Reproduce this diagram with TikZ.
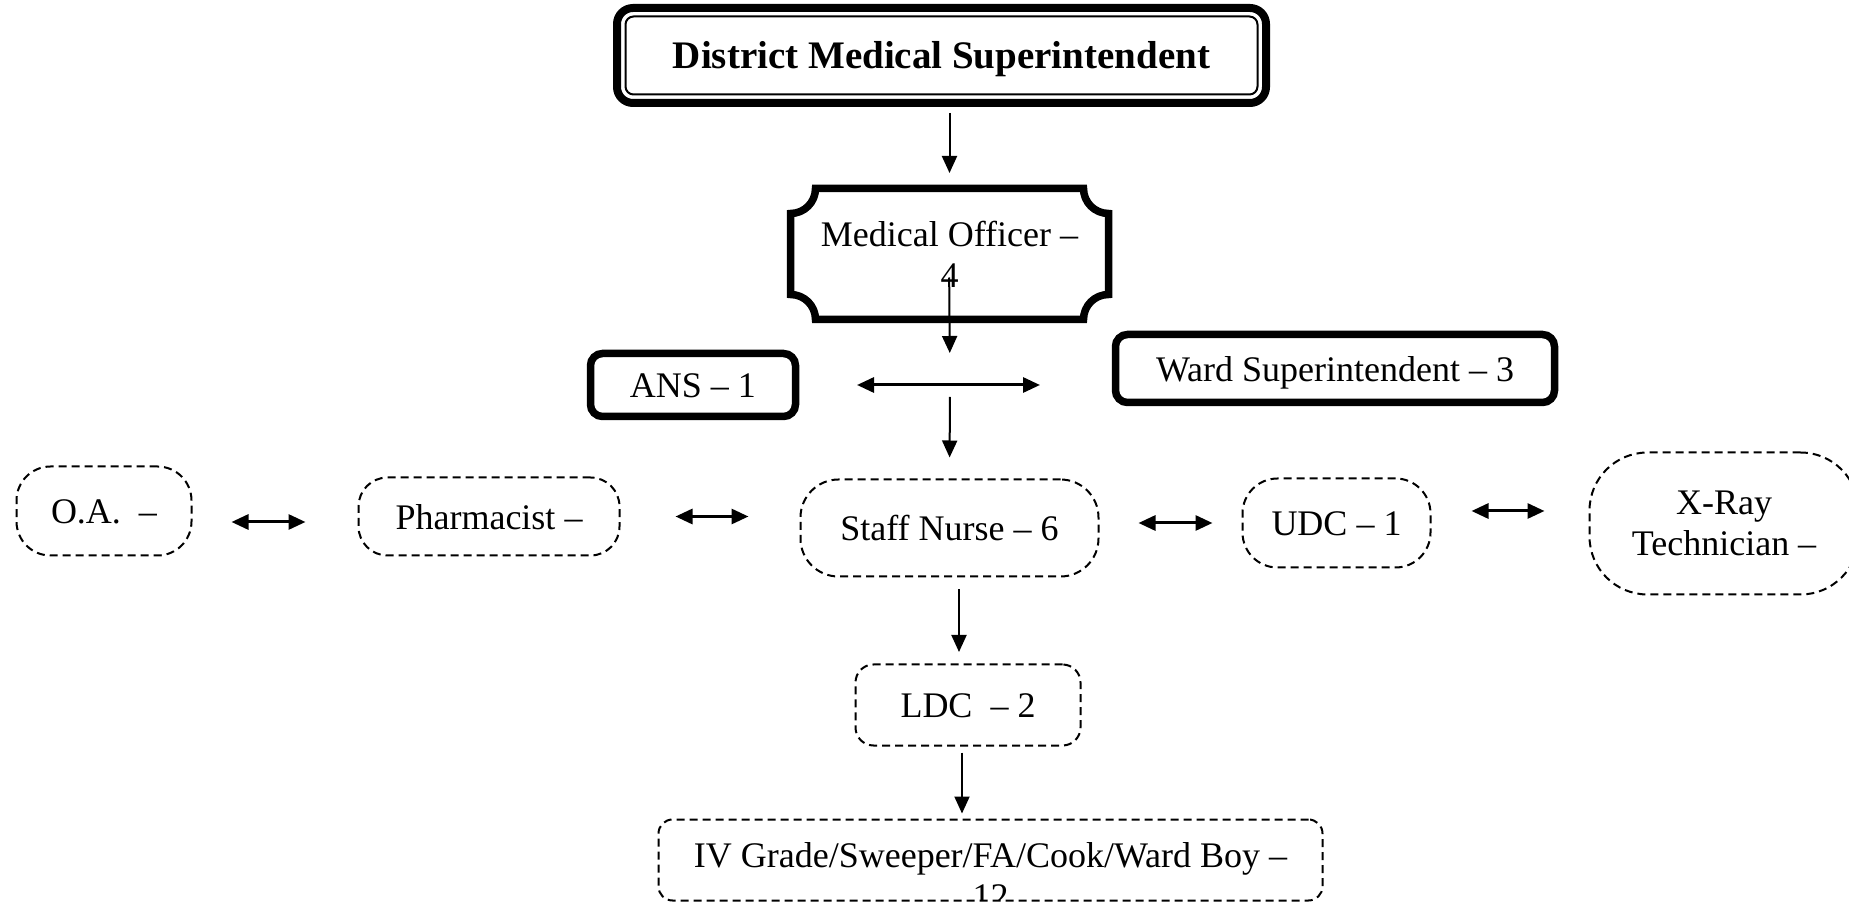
\documentclass[tikz,border=0pt]{standalone}
\usepackage{fontspec}
\setmainfont{Liberation Serif}
\usepackage{tikz}
\usetikzlibrary{arrows.meta,positioning,calc}

\begin{document}
\begin{tikzpicture}[
    x=0.5pt, y=0.5pt,
    >={Triangle[length=8.5pt,width=7.5pt]},
    every node/.style={font=\fontsize{18}{20.5}\selectfont, inner sep=0pt, outer sep=0pt, align=center},
    oneline/.style={text height=15pt, text depth=2pt},
    thickbox/.style={draw, line width=3.75pt, rounded corners=6pt, oneline},
    dashbox/.style={draw, line width=1pt, dash pattern=on 4pt off 2.5pt},
    arrow/.style={->, line width=1pt},
    darrow/.style={<->, line width=1.5pt}
]
    \useasboundingbox (0,0) rectangle (1849,-903);
    \clip (0,0) rectangle (1849,-903);

    % head of the chart
    \node[thickbox, line width=4pt, rounded corners=8pt, minimum width=324.5pt, minimum height=47.5pt,
          font=\fontsize{19.5}{22}\selectfont\bfseries] (dms) at (941.5,-55.5) {District Medical Superintendent};
    \draw[line width=1pt, rounded corners=4pt] ([shift={(4.25pt,-4.25pt)}]dms.north west) rectangle ([shift={(-4.25pt,4.25pt)}]dms.south east);

    \node[minimum width=159pt, minimum height=65.5pt] (mo) at (949.5,-254) {Medical Officer --\\4};
    \draw[line width=3.75pt] ([xshift=12.5pt]mo.north west) -- ([xshift=-12.5pt]mo.north east)
        arc[start angle=180, end angle=270, radius=12.5pt] -- ([yshift=12.5pt]mo.south east)
        arc[start angle=90, end angle=180, radius=12.5pt] -- ([xshift=12.5pt]mo.south west)
        arc[start angle=0, end angle=90, radius=12.5pt] -- ([yshift=-12.5pt]mo.north west)
        arc[start angle=270, end angle=360, radius=12.5pt] -- cycle;

    \node[thickbox, minimum width=102.5pt, minimum height=31.5pt] (ans) at (693,-385) {ANS -- 1};
    \node[thickbox, minimum width=219.5pt, minimum height=34pt] (ws) at (1335,-368.5) {Ward Superintendent -- 3};

    % staff row
    \node[dashbox, oneline, rounded corners=17pt, minimum width=87.5pt, minimum height=44.5pt] (oa) at (104,-511) {O.A.\ \ --};
    \node[dashbox, oneline, rounded corners=14.5pt, minimum width=130.5pt, minimum height=39pt] (ph) at (489,-516.5) {Pharmacist --};
    \node[dashbox, oneline, rounded corners=19pt, minimum width=149pt, minimum height=48.5pt] (sn) at (949.5,-528) {Staff Nurse -- 6};
    \node[dashbox, oneline, rounded corners=17.5pt, minimum width=94pt, minimum height=44.5pt] (udc) at (1336.5,-523) {UDC -- 1};
    \node[dashbox, rounded corners=29pt, minimum width=134.5pt, minimum height=71pt] (xr) at (1724,-523.5) {X-Ray\\Technician --};

    \node[dashbox, oneline, rounded corners=9pt, minimum width=112.5pt, minimum height=40.5pt] (ldc) at (968,-705) {LDC\ \ -- 2};
    \node[dashbox, rounded corners=7pt, minimum width=332pt, minimum height=40.5pt] (grd) at (990.5,-860) {};
    \begin{scope}
        \clip (grd.north west) rectangle (grd.south east);
        \node[anchor=base] (grdtext) at (990.5,-908) {IV Grade/Sweeper/FA/Cook/Ward Boy --\\12};
    \end{scope}

    % connectors
    \coordinate (hub) at (950,-383);
    \draw[arrow, shorten <=5pt, shorten >=7.75pt] (dms.south -| mo.north) -- (mo.north);
    \draw[arrow, shorten <=-21pt, shorten >=15pt] (mo.south) -- (hub);
    \draw[arrow, shorten <=7pt, shorten >=11pt] (hub) -- (sn.north);
    \draw[darrow, shorten <=30.75pt, shorten >=37.75pt] (ans.east) -- (ans.east -| ws.west);

    \draw[darrow, shorten <=20pt, shorten >=26.5pt] ([yshift=-5.5pt]oa.east) -- ([yshift=-5.5pt]oa.east -| ph.west);
    \draw[darrow, shorten <=28pt, shorten >=26pt] (ph.east) -- (ph.east -| sn.west);
    \draw[darrow, shorten <=20pt, shorten >=15pt] (sn.east |- udc.west) -- (udc.west);
    \draw[darrow, shorten <=20.5pt, shorten >=22.5pt] ([yshift=6pt]udc.east) -- ([yshift=6pt]udc.east -| xr.west);

    \draw[arrow, shorten <=6.5pt, shorten >=6.25pt] ([xshift=-4.5pt]ldc.north |- sn.south) -- ([xshift=-4.5pt]ldc.north);
    \draw[arrow, shorten <=3.5pt, shorten >=3pt] ([xshift=-3pt]ldc.south) -- ([xshift=-3pt]ldc.south |- grd.north);
\end{tikzpicture}
\end{document}
